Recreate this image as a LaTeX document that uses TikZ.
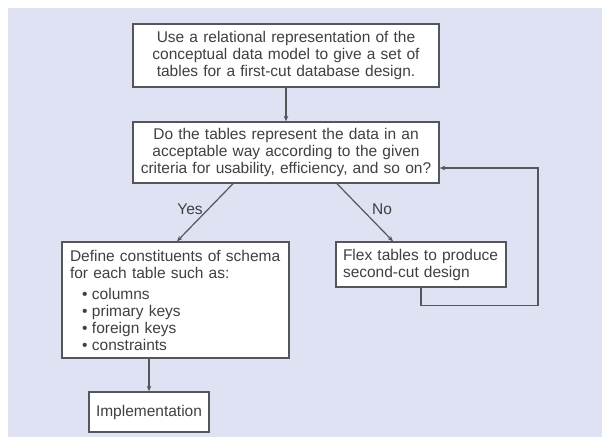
\documentclass[tikz,border=0pt]{standalone}
\usepackage{fontspec}
\setmainfont{Liberation Sans}
\usetikzlibrary{arrows.meta}
\definecolor{bgpanel}{HTML}{DEE2F2}
\definecolor{edgegray}{HTML}{55555C}
\definecolor{inkgray}{HTML}{404040}
\begin{document}
\begin{tikzpicture}[x=1pt,y=-1pt,
  every node/.style={font=\fontsize{15.5}{17}\selectfont, text=inkgray},
  stepbox/.style={draw=edgegray, line width=1.4pt, fill=white, inner sep=0pt},
  flow/.style={draw=edgegray, line width=1.2pt, -{Stealth[length=5.5pt,width=4.5pt]}},
]
\useasboundingbox (0,0) rectangle (602,437);
\fill[white] (0,0) rectangle (602,437);
\fill[bgpanel] (8,8) rectangle (602,437);

% process steps
\node[stepbox, minimum width=306pt, minimum height=63pt, align=center, text width=296pt]
  (model) at (286,55.5)
  {Use a relational representation of the\\conceptual data model to give a set of\\tables for a first-cut database design.};
\node[stepbox, minimum width=306pt, minimum height=61pt, align=center, text width=296pt]
  (check) at (286,152.5)
  {Do the tables represent the data in an\\acceptable way according to the given\\criteria for usability, efficiency, and so on?};
\node[stepbox, inner xsep=8pt, text width=211pt, minimum height=116pt, align=left]
  (schema) at (175.5,300)
  {Define constituents of schema\\for each table such as:\\[4pt]
   \hspace*{12pt}\makebox[10pt][l]{\textbullet}columns\\
   \hspace*{12pt}\makebox[10pt][l]{\textbullet}primary keys\\
   \hspace*{12pt}\makebox[10pt][l]{\textbullet}foreign keys\\
   \hspace*{12pt}\makebox[10pt][l]{\textbullet}constraints};
\node[stepbox, inner xsep=7pt, text width=156pt, minimum height=45pt, align=left]
  (flex) at (421,264.5)
  {Flex tables to produce\\second-cut design};
\node[stepbox, minimum width=120pt, minimum height=40pt]
  (impl) at (149,412) {Implementation};

% branch labels
\node (yes) at (190,209) {Yes};
\node (no) at (382,209) {No};

% connectors
\draw[flow] (model.south) -- (check.north);
\draw[flow] ([xshift=-53pt]check.south) -- ([xshift=1.5pt]schema.north);
\draw[flow] ([xshift=51pt]check.south) -- ([xshift=-28pt]flex.north);
\draw[flow] (flex.south) -- ++(0,18) -| (538,168) -- ([yshift=-15.5pt]check.east);
\draw[flow] (impl.north |- schema.south) -- (impl.north);
\end{tikzpicture}
\end{document}
